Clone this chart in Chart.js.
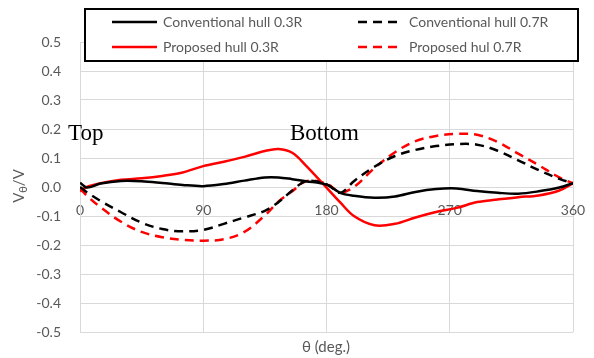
<!DOCTYPE html>
<html>
<head>
<meta charset="utf-8">
<script src="https://cdn.jsdelivr.net/npm/chart.js@4"></script>
<style>
  html, body { margin: 0; padding: 0; background: #fff; }
  #wrap { width: 594px; height: 358px; position: relative; }
</style>
</head>
<body>
<div id="wrap"><canvas id="chart"></canvas></div>
<script>
const theta = [0, 5, 15, 30, 45, 60, 75, 90, 105, 120, 135, 145, 155, 165, 180,
  190, 200, 215, 230, 245, 260, 275, 290, 305, 320, 335, 350, 360];

const convHull03 = [0.015, -0.002, 0.012, 0.021, 0.02, 0.014, 0.007, 0.003, 0.01, 0.022, 0.033, 0.033, 0.027, 0.02, 0.008,
  -0.02, -0.03, -0.037, -0.033, -0.017, -0.007, -0.005, -0.014, -0.02, -0.023, -0.015, -0.002, 0.013];
const convHull07 = [0.0, -0.018, -0.048, -0.087, -0.123, -0.145, -0.153, -0.148, -0.127, -0.105, -0.082, -0.052, -0.012, 0.02, 0.01,
  -0.02, 0.02, 0.07, 0.107, 0.128, 0.141, 0.148, 0.146, 0.125, 0.092, 0.058, 0.028, 0.013];
const propHull03 = [-0.015, 0.0, 0.013, 0.025, 0.03, 0.038, 0.05, 0.072, 0.087, 0.104, 0.124, 0.131, 0.118, 0.074, -0.002,
  -0.053, -0.1, -0.132, -0.127, -0.105, -0.086, -0.072, -0.052, -0.043, -0.035, -0.029, -0.012, 0.013];
const propHull07 = [-0.005, -0.03, -0.07, -0.12, -0.155, -0.173, -0.182, -0.185, -0.18, -0.155, -0.098, -0.05, -0.015, 0.02, 0.012,
  -0.018, 0.0, 0.065, 0.12, 0.158, 0.176, 0.183, 0.18, 0.155, 0.115, 0.075, 0.033, 0.013];

const seriesNames = ["Conventional hull 0.3R", "Conventional hull 0.7R", "Proposed hull 0.3R", "Proposed hul 0.7R"];
const xTicks = [0, 90, 180, 270, 360];
const yMin = -0.5, yMax = 0.5;

const gray = "#595959";
const gridColor = "#d9d9d9";
const dash = [9, 6];

function pts(values) {
  return theta.map((t, i) => ({ x: t, y: values[i] }));
}

const datasets = [
  { label: seriesNames[0], data: pts(convHull03), borderColor: "#000000", borderDash: [] },
  { label: seriesNames[1], data: pts(convHull07), borderColor: "#000000", borderDash: dash },
  { label: seriesNames[2], data: pts(propHull03), borderColor: "#ff0000", borderDash: [] },
  { label: seriesNames[3], data: pts(propHull07), borderColor: "#ff0000", borderDash: dash },
].map((d) => ({
  ...d,
  borderWidth: 2.5,
  pointRadius: 0,
  fill: false,
  tension: 0.35,
}));

// legend box, annotations and axis titles
const decorations = {
  id: "decorations",
  afterDraw(chart) {
    const ctx = chart.ctx;
    ctx.save();

    // legend
    ctx.fillStyle = "#fff";
    ctx.fillRect(85, 9, 493, 52);
    ctx.strokeStyle = "#000";
    ctx.lineWidth = 2;
    ctx.strokeRect(85, 9, 493, 52);
    const items = [
      { x: 112, y: 22, ds: 0 },
      { x: 358, y: 22, ds: 1 },
      { x: 112, y: 47, ds: 2 },
      { x: 358, y: 47, ds: 3 },
    ];
    ctx.font = "14px Lato";
    ctx.textBaseline = "middle";
    items.forEach((it) => {
      const ds = datasets[it.ds];
      ctx.beginPath();
      ctx.setLineDash(ds.borderDash);
      ctx.strokeStyle = ds.borderColor;
      ctx.lineWidth = 2.5;
      ctx.moveTo(it.x, it.y);
      ctx.lineTo(it.x + 45, it.y);
      ctx.stroke();
      ctx.setLineDash([]);
      ctx.fillStyle = gray;
      ctx.fillText(ds.label, it.x + 51, it.y);
    });

    // Top / Bottom labels
    ctx.fillStyle = "#000";
    ctx.font = "23px 'Liberation Serif'";
    ctx.textBaseline = "alphabetic";
    ctx.fillText("Top", 68, 140);
    ctx.fillText("Bottom", 290, 140);

    // x title
    ctx.fillStyle = gray;
    ctx.font = "15px Lato";
    ctx.textAlign = "center";
    ctx.textBaseline = "middle";
    ctx.fillText("θ (deg.)", 326, 347);

    // y title with subscript
    ctx.translate(19, 186);
    ctx.rotate(-Math.PI / 2);
    ctx.textAlign = "left";
    const wV = ctx.measureText("V").width;
    ctx.font = "11px Lato";
    const wT = ctx.measureText("θ").width;
    ctx.font = "15px Lato";
    const wS = ctx.measureText("/V").width;
    let x0 = -(wV + wT + wS) / 2;
    ctx.fillText("V", x0, 0);
    ctx.font = "11px Lato";
    ctx.fillText("θ", x0 + wV, 4);
    ctx.font = "15px Lato";
    ctx.fillText("/V", x0 + wV + wT, 0);

    ctx.restore();
  },
};

new Chart(document.getElementById("chart"), {
  type: "line",
  data: { datasets },
  options: {
    responsive: true,
    maintainAspectRatio: false,
    animation: false,
    layout: { padding: { left: 0, top: 42, right: 21, bottom: 26 } },
    plugins: { legend: { display: false }, tooltip: { enabled: false } },
    scales: {
      x: {
        type: "linear",
        min: 0,
        max: 360,
        position: { y: 0 },
        afterBuildTicks: (scale) => {
          scale.ticks = xTicks.map((v) => ({ value: v }));
        },
        // axis sits inside the plot at y = 0, so it takes no layout room
        afterFit: (scale) => {
          scale.height = 0;
          scale.paddingLeft = 0;
          scale.paddingRight = 0;
        },
        grid: { color: gridColor, lineWidth: 1, drawTicks: false },
        border: { color: gridColor },
        ticks: { color: gray, font: { family: "Lato", size: 14 }, padding: 15, maxRotation: 0 },
      },
      y: {
        min: yMin,
        max: yMax,
        afterFit: (scale) => {
          scale.width = 80;
          scale.paddingTop = 0;
          scale.paddingBottom = 0;
        },
        grid: { color: gridColor, lineWidth: 1, drawTicks: false },
        border: { color: gridColor },
        ticks: {
          stepSize: 0.1,
          color: gray,
          font: { family: "Lato", size: 14 },
          padding: 19,
          callback: (v) => v.toFixed(1),
        },
      },
    },
  },
  plugins: [decorations],
});
</script>
</body>
</html>
